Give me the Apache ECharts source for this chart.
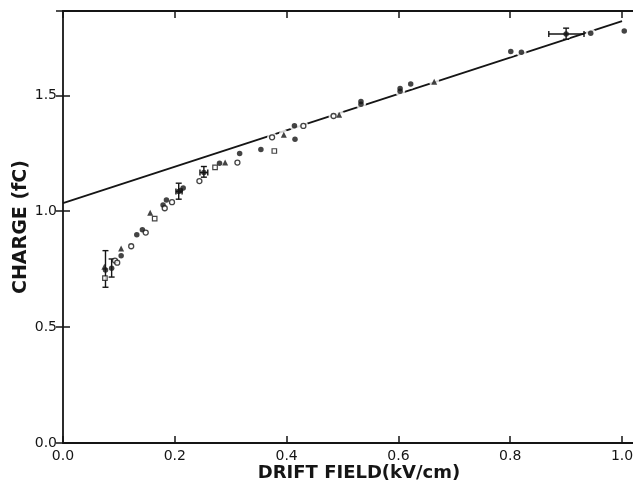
<!DOCTYPE html>
<html>
<head>
<meta charset="utf-8">
<script src="https://cdn.jsdelivr.net/npm/echarts@6/dist/echarts.min.js"></script>
<style>
    html, body { margin: 0; padding: 0; background: #fff; }
    #chart { width: 633px; height: 487px; }
</style>
</head>
<body>
<div id="chart"></div>
<script>
// data: [drift field (kV/cm), charge (fC)]
const filledDots = [
    [0.076, 0.747], [0.087, 0.754], [0.104, 0.808], [0.132, 0.899], [0.142, 0.920],
    [0.179, 1.027], [0.185, 1.049], [0.207, 1.085], [0.210, 1.089], [0.215, 1.100],
    [0.252, 1.167], [0.280, 1.207], [0.316, 1.249], [0.354, 1.266], [0.414, 1.369],
    [0.415, 1.311], [0.533, 1.462], [0.533, 1.474], [0.603, 1.518], [0.603, 1.530],
    [0.622, 1.549], [0.801, 1.689], [0.820, 1.686], [0.900, 1.765], [0.944, 1.768],
    [1.004, 1.778]
]
const openCircles = [
    [0.093, 0.787], [0.097, 0.778], [0.122, 0.849], [0.148, 0.908], [0.182, 1.013],
    [0.195, 1.039], [0.244, 1.130], [0.312, 1.210], [0.374, 1.319], [0.430, 1.368],
    [0.484, 1.411]
]
const triangles = [
    [0.074, 0.760], [0.104, 0.839], [0.156, 0.994], [0.290, 1.210], [0.395, 1.330],
    [0.494, 1.416], [0.664, 1.559]
]
const openSquares = [
    [0.075, 0.711], [0.164, 0.968], [0.272, 1.189], [0.378, 1.260]
]
// straight fit line, end points
const fitLine = [[0, 1.035], [1.0, 1.82]]
// vertical error bars: [x, low, high]
const yErrors = [
    [0.076, 0.672, 0.830], [0.087, 0.716, 0.794], [0.207, 1.052, 1.121],
    [0.252, 1.147, 1.193], [0.900, 1.742, 1.790]
]
// horizontal error bars: [y, low, high]
const xErrors = [
    [1.085, 0.202, 0.213], [1.167, 0.245, 0.259], [1.765, 0.869, 0.932]
]

const ink = '#151515'
const font = 'DejaVu Sans'

let chart = echarts.init(document.getElementById('chart'), null, { renderer: 'canvas' })

let allPoints = filledDots.concat(openCircles, triangles, openSquares)

function vErrorBar(params, api) {
    let a = api.coord([api.value(0), api.value(1)])
    let b = api.coord([api.value(0), api.value(2)])
    let s = { stroke: ink, lineWidth: 1.4 }
    return {
        type: 'group',
        children: [
            { type: 'line', shape: { x1: a[0], y1: a[1], x2: b[0], y2: b[1] }, style: s },
            { type: 'line', shape: { x1: a[0] - 3, y1: a[1], x2: a[0] + 3, y2: a[1] }, style: s },
            { type: 'line', shape: { x1: b[0] - 3, y1: b[1], x2: b[0] + 3, y2: b[1] }, style: s }
        ]
    }
}

function hErrorBar(params, api) {
    let a = api.coord([api.value(1), api.value(0)])
    let b = api.coord([api.value(2), api.value(0)])
    let s = { stroke: ink, lineWidth: 1.4 }
    return {
        type: 'group',
        children: [
            { type: 'line', shape: { x1: a[0], y1: a[1], x2: b[0], y2: b[1] }, style: s },
            { type: 'line', shape: { x1: a[0], y1: a[1] - 3, x2: a[0], y2: a[1] + 3 }, style: s },
            { type: 'line', shape: { x1: b[0], y1: b[1] - 3, x2: b[0], y2: b[1] + 3 }, style: s }
        ]
    }
}

let axisLine = { show: true, onZero: false, lineStyle: { color: ink, width: 1.8 } }
let axisTick = { show: true, inside: true, length: 7, lineStyle: { color: ink, width: 1.5 } }

let option = {
    backgroundColor: '#fff',
    animation: false,
    grid: { left: 63, right: -3, top: 11, bottom: 44, outerBoundsMode: 'none', containLabel: false },
    xAxis: [{
        type: 'value',
        min: 0,
        max: 1.025,
        interval: 0.2,
        position: 'bottom',
        axisLine: axisLine,
        axisTick: axisTick,
        splitLine: { show: false },
        axisLabel: {
            showMaxLabel: false,
            margin: 6,
            color: ink,
            fontFamily: font,
            fontSize: 14,
            formatter: (v) => v.toFixed(1)
        },
        name: 'DRIFT FIELD(kV/cm)',
        nameLocation: 'middle',
        nameMoveOverlap: false,
        nameGap: 21,
        nameTextStyle: {
            color: ink,
            fontFamily: font,
            fontWeight: 'bold',
            fontSize: 18,
            padding: [0, 0, 0, 19]
        }
    }, {
        type: 'value',
        min: 0,
        max: 1.025,
        interval: 0.2,
        position: 'top',
        axisLine: axisLine,
        axisTick: axisTick,
        splitLine: { show: false },
        axisLabel: { show: false }
    }],
    yAxis: [{
        type: 'value',
        min: 0,
        max: 1.864,
        interval: 0.5,
        position: 'left',
        axisLine: axisLine,
        axisTick: axisTick,
        splitLine: { show: false },
        axisLabel: {
            showMaxLabel: false,
            margin: 6,
            color: ink,
            fontFamily: font,
            fontSize: 14,
            formatter: (v) => v.toFixed(1)
        },
        name: 'CHARGE (fC)',
        nameLocation: 'middle',
        nameMoveOverlap: false,
        nameGap: 32,
        nameTextStyle: {
            color: ink,
            fontFamily: font,
            fontWeight: 'bold',
            fontSize: 19
        }
    }, {
        type: 'value',
        min: 0,
        max: 1.864,
        interval: 0.5,
        position: 'right',
        axisLine: { show: false },
        axisTick: axisTick,
        splitLine: { show: false },
        axisLabel: { show: false }
    }],
    series: [
        {
            type: 'line',
            data: fitLine,
            symbol: 'none',
            z: 1,
            lineStyle: { color: ink, width: 1.8 }
        },
        {
            // white halo so the line breaks around the points
            type: 'scatter',
            data: allPoints,
            symbol: 'circle',
            symbolSize: 10,
            z: 2,
            itemStyle: { color: '#fff' }
        },
        {
            type: 'custom',
            renderItem: vErrorBar,
            data: yErrors,
            encode: { x: 0, y: [1, 2] },
            z: 3
        },
        {
            type: 'custom',
            renderItem: hErrorBar,
            data: xErrors,
            encode: { x: [1, 2], y: 0 },
            z: 3
        },
        {
            type: 'scatter',
            data: filledDots,
            symbol: 'circle',
            symbolSize: 5.5,
            z: 4,
            itemStyle: { color: ink }
        },
        {
            type: 'scatter',
            data: openCircles,
            symbol: 'circle',
            symbolSize: 5,
            z: 4,
            itemStyle: { color: '#fff', borderColor: ink, borderWidth: 1.3 }
        },
        {
            type: 'scatter',
            data: triangles,
            symbol: 'triangle',
            symbolSize: 6,
            z: 4,
            itemStyle: { color: ink }
        },
        {
            type: 'scatter',
            data: openSquares,
            symbol: 'rect',
            symbolSize: 4.5,
            z: 4,
            itemStyle: { color: '#fff', borderColor: ink, borderWidth: 1.2 }
        }
    ]
}

chart.setOption(option)
</script>
</body>
</html>
